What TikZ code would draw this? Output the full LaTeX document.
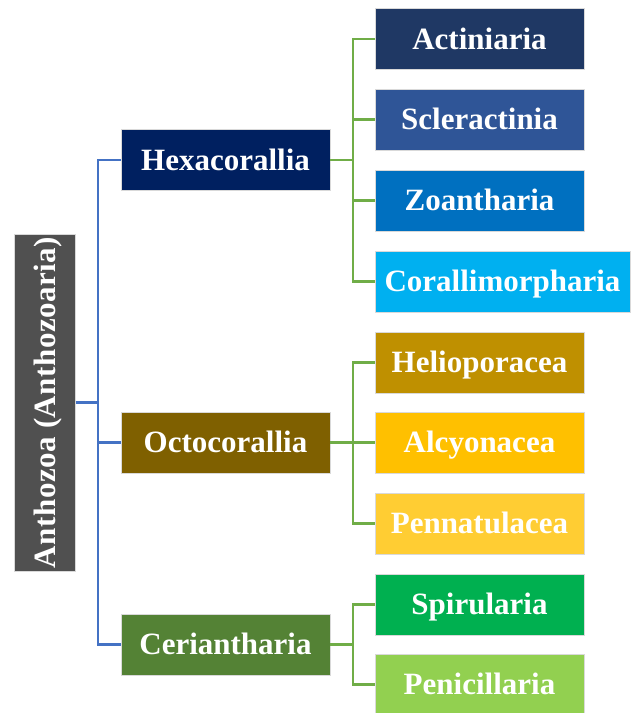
\documentclass[tikz,border=0pt]{standalone}
\usepackage{fontspec}
\setmainfont{Liberation Serif}
\definecolor{rootgray}{HTML}{505050}
\definecolor{hexa}{HTML}{002060}
\definecolor{octo}{HTML}{7F6000}
\definecolor{ceri}{HTML}{548235}
\definecolor{acti}{HTML}{1F3864}
\definecolor{scle}{HTML}{2F5597}
\definecolor{zoan}{HTML}{0070C0}
\definecolor{cora}{HTML}{00B0F0}
\definecolor{heli}{HTML}{BF9000}
\definecolor{alcy}{HTML}{FFC000}
\definecolor{penn}{HTML}{FFCD33}
\definecolor{spir}{HTML}{00B050}
\definecolor{peni}{HTML}{92D050}
\definecolor{blueline}{HTML}{4472C4}
\definecolor{greenline}{HTML}{70AD47}
\tikzset{
  box/.style={rectangle, inner sep=0pt, minimum height=61pt, text=white,
    text height=20.5pt, text depth=0pt,
    font=\fontsize{31}{36}\selectfont\bfseries, draw=white!85!black, line width=0.4pt},
  midbox/.style={box, minimum width=209pt},
  leafbox/.style={box, minimum width=209pt},
  bline/.style={draw=blueline, line width=2.5pt},
  gline/.style={draw=greenline, line width=2.5pt},
}
\begin{document}
\begin{tikzpicture}[x=1pt, y=-1pt]
\useasboundingbox (0,0) rectangle (630,713);
% root
\node[box, fill=rootgray, rotate=90, minimum width=337pt, minimum height=61pt,
  font=\fontsize{31}{36}\selectfont\bfseries\addfontfeature{LetterSpace=1.6}] (root) at (45,402.5) {Anthozoa (Anthozoaria)};
% middle
\node[midbox, fill=hexa] (hx) at (225.5,160) {Hexacorallia};
\node[midbox, fill=octo] (oc) at (225.5,442.5) {Octocorallia};
\node[midbox, fill=ceri] (ce) at (225.5,644.5) {Ceriantharia};
% leaves
\node[leafbox, fill=acti] (ac) at (479.5,39) {Actiniaria};
\node[leafbox, fill=scle] (sc) at (479.5,119.5) {Scleractinia};
\node[leafbox, fill=zoan] (zo) at (479.5,200.5) {Zoantharia};
\node[leafbox, fill=cora, minimum width=255pt] (co) at (502.5,281.5) {Corallimorpharia};
\node[leafbox, fill=heli] (he) at (479.5,362.5) {Helioporacea};
\node[leafbox, fill=alcy] (al) at (479.5,442.5) {Alcyonacea};
\node[leafbox, fill=penn] (pe) at (479.5,523.5) {Pennatulacea};
\node[leafbox, fill=spir] (sp) at (479.5,604.5) {Spirularia};
\node[leafbox, fill=peni] (pn) at (479.5,684.5) {Penicillaria};
% blue connectors
\coordinate (bx) at (98,402.5);
\draw[bline] (root.south) -- (bx);
\draw[bline] (hx.west) -- (hx.west -| bx) -- (ce.west -| bx) -- (ce.west);
\draw[bline] (oc.west -| bx) -- (oc.west);
% green connectors
\coordinate (gx) at (353,0);
\draw[gline] (hx.east) -- (hx.east -| gx);
\draw[gline] (ac.west) -- (ac.west -| gx) -- (co.west -| gx) -- (co.west);
\draw[gline] (sc.west -| gx) -- (sc.west);
\draw[gline] (zo.west -| gx) -- (zo.west);
\draw[gline] (oc.east) -- (oc.east -| gx);
\draw[gline] (he.west) -- (he.west -| gx) -- (pe.west -| gx) -- (pe.west);
\draw[gline] (al.west -| gx) -- (al.west);
\draw[gline] (ce.east) -- (ce.east -| gx);
\draw[gline] (sp.west) -- (sp.west -| gx) -- (pn.west -| gx) -- (pn.west);
\end{tikzpicture}
\end{document}
